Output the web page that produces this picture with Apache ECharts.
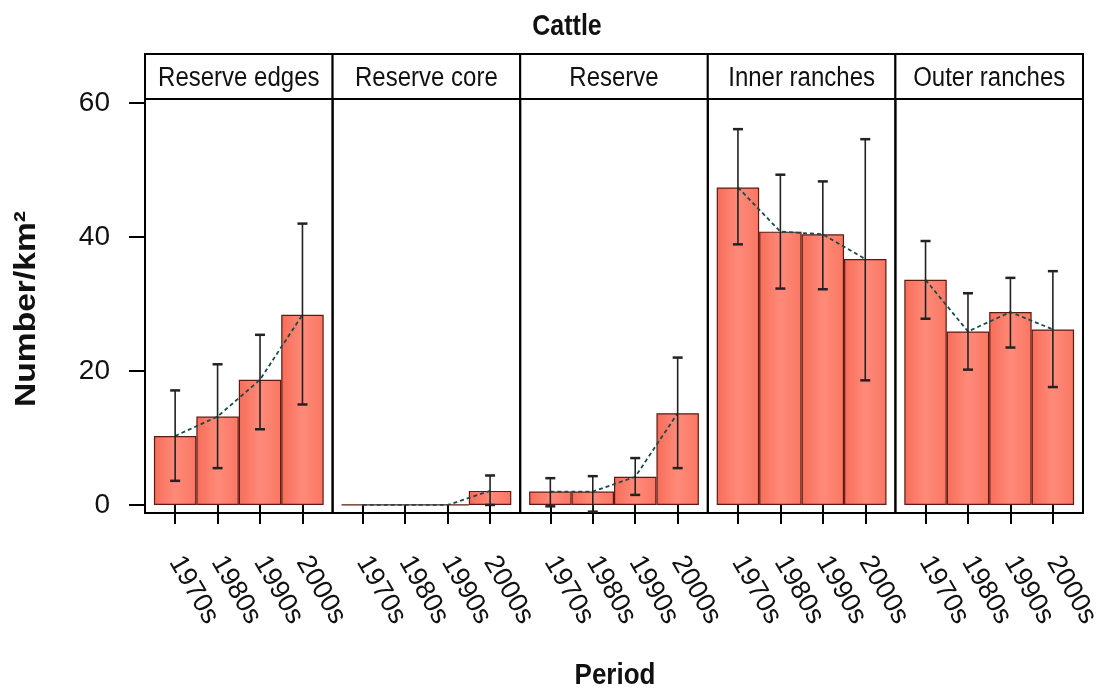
<!DOCTYPE html>
<html>
<head>
<meta charset="utf-8">
<script src="https://cdn.jsdelivr.net/npm/echarts@6/dist/echarts.min.js"></script>
<style>
  html, body { margin: 0; padding: 0; background: #fff; }
  #chart { width: 1098px; height: 692px; }
</style>
</head>
<body>
<div id="chart"></div>
<script>
// ---- data ----
const periods = ['1970s', '1980s', '1990s', '2000s'];
const panelNames = ['Reserve edges', 'Reserve core', 'Reserve', 'Inner ranches', 'Outer ranches'];
const yTicks = [0, 20, 40, 60];

const edgesMean = [10.3, 13.2, 18.7, 28.4];
const edgesLow  = [3.6, 5.5, 11.3, 15.0];
const edgesHigh = [17.1, 21.0, 25.4, 42.0];

const coreMean = [0, 0, 0, 2.1];
const coreLow  = [null, null, null, 0.0];
const coreHigh = [null, null, null, 4.4];

const reserveMean = [2.0, 2.0, 4.2, 13.7];
const reserveLow  = [-0.2, -1.0, 1.5, 5.5];
const reserveHigh = [4.0, 4.3, 7.0, 22.0];

const innerMean = [47.4, 40.8, 40.4, 36.7];
const innerLow  = [38.9, 32.3, 32.2, 18.6];
const innerHigh = [56.1, 49.3, 48.3, 54.6];

const outerMean = [33.6, 25.9, 28.8, 26.2];
const outerLow  = [27.8, 20.2, 23.5, 17.6];
const outerHigh = [39.4, 31.6, 33.9, 34.9];

const panelMeans = [edgesMean, coreMean, reserveMean, innerMean, outerMean];
const panelLows  = [edgesLow, coreLow, reserveLow, innerLow, outerLow];
const panelHighs = [edgesHigh, coreHigh, reserveHigh, innerHigh, outerHigh];

// ---- layout ----
const FONT = "'Liberation Sans', Arial, sans-serif";
const L = 145, R = 1083, TOP = 99, BOT = 513, STRIP_TOP = 54;
const W = (R - L) / panelNames.length;
const XMIN = 0.29, XMAX = 4.71;
const YMIN = -1.2, YMAX = 60.6;
const barPx = W / (XMAX - XMIN);

const chart = echarts.init(document.getElementById('chart'), null, { renderer: 'canvas' });

const grids = [], xAxes = [], yAxes = [], series = [], graphics = [];
const barFill = new echarts.graphic.LinearGradient(0, 0, 1, 0, [
  { offset: 0, color: '#f66d59' },
  { offset: 0.5, color: '#ff8a79' },
  { offset: 1, color: '#f97763' }
]);

panelNames.forEach((name, i) => {
  grids.push({
    left: L + i * W, top: TOP, width: W, height: BOT - TOP,
    outerBoundsMode: 'none', containLabel: false,
    show: true, borderColor: '#000', borderWidth: 2, backgroundColor: 'transparent'
  });
  xAxes.push({
    type: 'value', gridIndex: i, min: XMIN, max: XMAX,
    splitLine: { show: false },
    axisLine: { show: false },
    axisTick: { show: true, customValues: [1, 2, 3, 4], length: 19, lineStyle: { color: '#000', width: 2 } },
    axisLabel: {
      show: true, customValues: [1, 2, 3, 4],
      formatter: v => periods[Math.round(v) - 1],
      rotate: -60, margin: 45, fontSize: 27, color: '#111', fontFamily: FONT
    }
  });
  yAxes.push({
    type: 'value', gridIndex: i, min: YMIN, max: YMAX,
    splitLine: { show: false },
    axisLine: { show: false },
    axisTick: i === 0
      ? { show: true, customValues: yTicks, length: 16, lineStyle: { color: '#000', width: 2 } }
      : { show: false },
    axisLabel: i === 0
      ? { show: true, customValues: yTicks, margin: 35, fontSize: 28, color: '#111', fontFamily: FONT }
      : { show: false }
  });

  const means = panelMeans[i], lows = panelLows[i], highs = panelHighs[i];
  const xy = means.map((m, k) => [k + 1, m]);

  series.push({
    type: 'bar', xAxisIndex: i, yAxisIndex: i, data: xy, barWidth: barPx, z: 2,
    itemStyle: { color: barFill, borderColor: '#5e1a12', borderWidth: 1.2 },
    silent: true
  });
  series.push({
    type: 'line', xAxisIndex: i, yAxisIndex: i, data: xy, z: 3,
    symbol: 'none', lineStyle: { color: '#1a4a4a', width: 1.8, type: [4, 3] },
    silent: true
  });
  series.push({
    type: 'custom', xAxisIndex: i, yAxisIndex: i, z: 4, silent: true,
    data: means.map((m, k) => [k + 1, lows[k], highs[k]]),
    renderItem: (params, api) => {
      const lo = api.value(1), hi = api.value(2);
      if (lo === null || hi === null || isNaN(lo) || isNaN(hi)) return;
      const x = api.value(0);
      const p1 = api.coord([x, lo]);
      const p2 = api.coord([x, hi]);
      const cap = 5;
      const st = { stroke: '#222', lineWidth: 1.6 };
      return {
        type: 'group',
        children: [
          { type: 'line', shape: { x1: p1[0], y1: p1[1], x2: p2[0], y2: p2[1] }, style: st },
          { type: 'line', shape: { x1: p1[0] - cap, y1: p1[1], x2: p1[0] + cap, y2: p1[1] }, style: { stroke: '#222', lineWidth: 2.5 } },
          { type: 'line', shape: { x1: p2[0] - cap, y1: p2[1], x2: p2[0] + cap, y2: p2[1] }, style: { stroke: '#222', lineWidth: 2.5 } }
        ]
      };
    }
  });

  // strip header
  graphics.push({
    type: 'rect', silent: true,
    shape: { x: L + i * W, y: STRIP_TOP, width: W, height: TOP - STRIP_TOP },
    style: { fill: '#fff', stroke: '#000', lineWidth: 2 }
  });
  graphics.push({
    type: 'text', silent: true, x: L + i * W + W / 2, y: (STRIP_TOP + TOP) / 2 + 2, scaleY: 1.15,
    style: { text: name, fill: '#111', font: '24px ' + FONT, textAlign: 'center', textVerticalAlign: 'middle' }
  });
});

graphics.push({
  type: 'text', silent: true, x: 567, y: 27, scaleY: 1.2,
  style: { text: 'Cattle', fill: '#111', font: 'bold 25px ' + FONT, textAlign: 'center', textVerticalAlign: 'middle' }
});
graphics.push({
  type: 'text', silent: true, x: 615, y: 676, scaleY: 1.15,
  style: { text: 'Period', fill: '#111', font: 'bold 26px ' + FONT, textAlign: 'center', textVerticalAlign: 'middle' }
});
graphics.push({
  type: 'text', silent: true, x: 27, y: 309, rotation: Math.PI / 2, scaleX: 1.12,
  style: { text: 'Number/km²', fill: '#111', font: 'bold 30px ' + FONT, textAlign: 'center', textVerticalAlign: 'middle' }
});

chart.setOption({
  animation: false,
  backgroundColor: '#fff',
  grid: grids,
  xAxis: xAxes,
  yAxis: yAxes,
  series: series,
  graphic: graphics
});
</script>
</body>
</html>
